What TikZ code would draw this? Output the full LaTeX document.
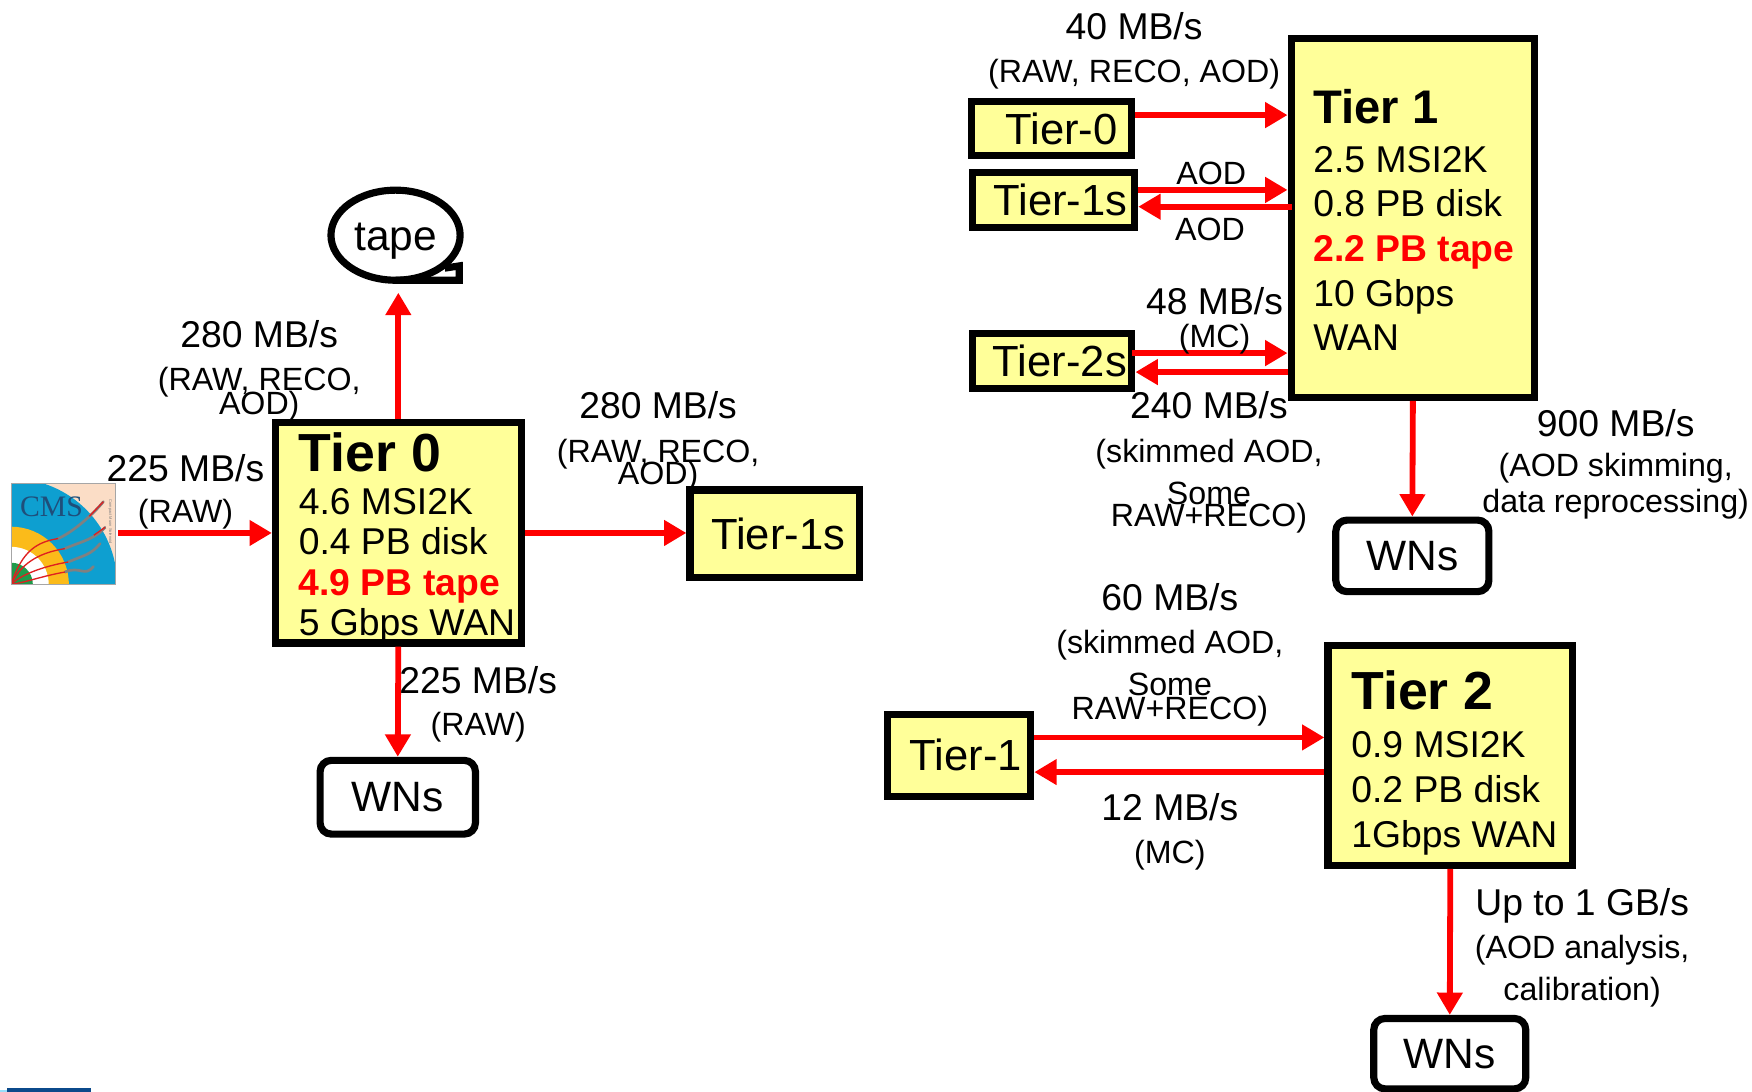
\documentclass[tikz,border=0pt]{standalone}
\usepackage{fontspec}
\setmainfont{Liberation Sans}
\newfontfamily\cmsfont{Liberation Serif}
\usepackage{xcolor}
\usetikzlibrary{arrows.meta, positioning, shapes.geometric}

\definecolor{tieryellow}{HTML}{FFFF99}
\definecolor{cmsblue}{HTML}{0E9FD0}
\definecolor{cmsgold}{HTML}{FBBB1A}
\definecolor{cmsgreen}{HTML}{1F9A4A}
\definecolor{cmspeach}{HTML}{FBDDC6}
\definecolor{cmsink}{HTML}{1F4E7A}
\definecolor{footblue}{HTML}{0B4A8B}

\newcommand{\ratenote}[1]{{\fontsize{14.4}{14.4}\selectfont #1}}
\newcommand{\tierhead}[2][24]{{\fontsize{#1}{#1}\selectfont\bfseries #2}}
\newcommand{\tiertape}[1]{{\bfseries\color{red}#1}}
\newcommand{\sitetext}[1]{\raisebox{-1.6pt}{#1}}

\begin{document}
\begin{tikzpicture}[
      x=0.5pt, y=-0.5pt,
      tierbox/.style={draw, line width=3.2pt, fill=tieryellow, inner sep=0pt},
      sitebox/.style={tierbox, font=\fontsize{19.5}{20}\selectfont},
      wnbox/.style={draw, line width=3.2pt, rounded corners=5pt, inner sep=0pt, fill=white,
        font=\fontsize{19}{20}\selectfont},
      tierlines/.style={anchor=north west, inner sep=0pt, align=left},
      ratelabel/.style={anchor=north, inner sep=0pt, align=center, font=\fontsize{16.7}{20}\selectfont},
      flow/.style={draw=red, line width=2.6pt, -{Triangle[length=10pt, width=11pt]}}
    ]
      \useasboundingbox (0,0) rectangle (1568,977);

      % left site
      \node[tierbox, minimum width=110pt, minimum height=98.5pt] (tierzero) at (356.5,477) {};
      \node[tierlines, font=\fontsize{16.7}{18}\selectfont] (tierzerotext) at (267,386.5) {\tierhead{Tier 0}\\[1.5pt]
        4.6 MSI2K\\0.4 PB disk\\\tiertape{4.9 PB tape}\\5 Gbps WAN};
      \node[sitebox, minimum width=76pt, minimum height=39pt] (tieronesout) at (693.5,477.5) {\hspace{3pt}\sitetext{Tier-1s}};
      \node[wnbox, minimum width=69.5pt, minimum height=33pt] (wnszero) at (356,713.5) {\sitetext{WNs}};
      \node[ellipse, draw, line width=3.2pt, outer sep=0pt, inner sep=0pt, minimum width=57.8pt,
        minimum height=40.3pt, font=\fontsize{19}{20}\selectfont] (tape) at (354,210.5) {\raisebox{-6.8pt}[0pt][0pt]{tape}};
      \draw[line width=3.2pt] (tape.south) -- (411,250.8) -- (411,238) -- (398,240);

      % upper right site
      \node[tierbox, minimum width=109pt, minimum height=160.5pt] (tierone) at (1264.5,195) {};
      \node[tierlines, font=\fontsize{16.7}{20}\selectfont] (tieronetext) at (1175,80) {\tierhead[21.1]{Tier 1}\\[1.5pt]
        2.5 MSI2K\\0.8 PB disk\\\tiertape{2.2 PB tape}\\10 Gbps\\WAN};
      \node[sitebox, minimum width=71.5pt, minimum height=24.5pt] (fromzero) at (941,115) {\hspace{9pt}\sitetext{Tier-0}};
      \node[sitebox, minimum width=72.5pt, minimum height=24.5pt] (peerones) at (943,179) {\hspace{6pt}\sitetext{Tier-1s}};
      \node[sitebox, minimum width=71.5pt, minimum height=24.5pt] (peertwos) at (941.5,323) {\hspace{7pt}\sitetext{Tier-2s}};
      \node[wnbox, minimum width=68.5pt, minimum height=32pt] (wnsone) at (1264,497.5) {\sitetext{WNs}};

      % lower right site
      \node[tierbox, minimum width=109.5pt, minimum height=98.5pt] (tiertwo) at (1298,676) {};
      \node[tierlines, font=\fontsize{16.7}{20}\selectfont] (tiertwotext) at (1209,600) {\tierhead{Tier 2}\\[1.5pt]
        0.9 MSI2K\\0.2 PB disk\\1Gbps WAN};
      \node[sitebox, minimum width=64pt, minimum height=36.5pt] (uptier) at (858.5,676) {\hspace{6pt}\sitetext{Tier-1}};
      \node[wnbox, minimum width=68pt, minimum height=31.5pt] (wnstwo) at (1297.5,943) {\raisebox{-3pt}{WNs}};

      % CMS picture
      \node[minimum width=46.5pt, minimum height=45pt, inner sep=0pt, outer sep=0pt] (cms) at (56.5,478) {};
      \begin{scope}
        \clip (cms.south west) rectangle (cms.north east);
        \fill[cmspeach] (cms.south west) rectangle (cms.north east);
        \fill[cmsblue] (cms.south west) circle[radius=47.4pt];
        \fill[cmsgold] (cms.south west) circle[radius=25.8pt];
        \fill[white] (cms.south west) circle[radius=16.8pt];
        \fill[cmsgreen] (cms.south west) circle[radius=9.7pt];
        \foreach \midx/\midy/\endx/\endy in {52/482/92.5/449, 58/491/94/472, 61/503/89.6/486.5, 58/512/83.6/507} {
          \draw[gray, line width=1.2pt, line cap=round] (\midx,\midy) .. controls (\midx+14,\midy-6) and (\endx-8,\endy+10) .. (\endx,\endy);
          \draw[red!75!gray, line width=0.6pt] (10,523) .. controls (20,\midy+10) and (\midx-18,\midy+3) .. (\midx,\midy);
        }
        \draw[red!75!gray, line width=0.6pt] (80,462) -- (92.5,449) (84,479) -- (94,472);
      \end{scope}
      \draw[gray!70, line width=0.3pt] (cms.south west) rectangle (cms.north east);
      \node[inner sep=0pt, text=cmsink, font=\fontsize{13.3}{14}\cmsfont] (cmsword) at (46,454) {CMS};
      \node[inner sep=0pt, rotate=-90, text=gray, font=\fontsize{1.8}{2}\selectfont] (cmsname) at (98.5,467) {Compact Muon Solenoid};

      % connectors
      \draw[flow, shorten <=1.5pt] ([yshift=0.5pt]cms.east) -- ([yshift=0.5pt]cms.east -| tierzero.west);
      \draw[flow, shorten >=5.6pt] (tierzero.north) -- (tierzero.north |- tape.south);
      \draw[flow] (tierzero.east) -- (tierzero.east -| tieronesout.west);
      \draw[flow] (tierzero.south) -- (wnszero.north);

      \draw[flow] ([yshift=6pt]fromzero.east) -- ([yshift=6pt]fromzero.east -| tierone.west);
      \draw[flow] ([yshift=4.5pt]peerones.east) -- ([yshift=4.5pt]peerones.east -| tierone.west);
      \draw[flow, shorten <=-2pt] ([yshift=-3pt]peerones.east -| tierone.west) -- ([yshift=-3pt]peerones.east);
      \draw[flow, shorten <=-1.5pt] ([yshift=3.5pt]peertwos.east) -- ([yshift=3.5pt]peertwos.east -| tierone.west);
      \draw[flow] ([yshift=-5pt]peertwos.east -| tierone.west) -- ([yshift=-5pt]peertwos.east);
      \draw[flow] (tierone.south) -- (wnsone.north);

      \draw[flow] ([yshift=8pt]uptier.east) -- ([yshift=8pt]uptier.east -| tiertwo.west);
      \draw[flow] ([yshift=-7.5pt]uptier.east -| tiertwo.west) -- ([yshift=-7.5pt]uptier.east);
      \draw[flow] (tiertwo.south) -- (wnstwo.north);

      % rates
      \node[ratelabel] (ratetape) at (232,286) {280 MB/s\\[-0.5pt]\ratenote{(RAW, RECO,}\\[-9.5pt]\ratenote{AOD)}};
      \node[ratelabel] (ratecms) at (166,406) {225 MB/s\\[-1.5pt]\ratenote{(RAW)}};
      \node[ratelabel] (rateout) at (589,350) {280 MB/s\\[-0.5pt]\ratenote{(RAW, RECO,}\\[-10pt]\ratenote{AOD)}};
      \node[ratelabel] (ratewns) at (428,596) {225 MB/s\\[-1pt]\ratenote{(RAW)}};
      \node[ratelabel] (ratezero) at (1015,11) {40 MB/s\\[-1pt]\ratenote{(RAW, RECO, AOD)}};
      \node[ratelabel] (aodin) at (1084,145) {\ratenote{AOD}};
      \node[ratelabel] (aodout) at (1083,195) {\ratenote{AOD}};
      \node[ratelabel] (ratemc) at (1087,257) {48 MB/s\\[-5.5pt]\ratenote{(MC)}};
      \node[ratelabel] (rateskim) at (1082,350) {240 MB/s\\[-0.5pt]\ratenote{(skimmed AOD,}\\[-1pt]\ratenote{Some}\\[-10pt]\ratenote{RAW+RECO)}};
      \node[ratelabel] (ratereproc) at (1446,366) {900 MB/s\\[-2pt]\ratenote{(AOD skimming,}\\[-4pt]\ratenote{data reprocessing)}};
      \node[ratelabel] (rateup) at (1047,522) {60 MB/s\\[-1pt]\ratenote{(skimmed AOD,}\\[-1pt]\ratenote{Some}\\[-9.5pt]\ratenote{RAW+RECO)}};
      \node[ratelabel] (ratedown) at (1047,710) {12 MB/s\\[-1pt]\ratenote{(MC)}};
      \node[ratelabel] (rateana) at (1416,795) {Up to 1 GB/s\\[-1pt]\ratenote{(AOD analysis,}\\[-1pt]\ratenote{calibration)}};

      % slide footer remnant
      \fill[footblue] (6,973.5) rectangle (81,977);
      \fill[cyan!40] (0,975.5) rectangle (6,977);
    \end{tikzpicture}
\end{document}
